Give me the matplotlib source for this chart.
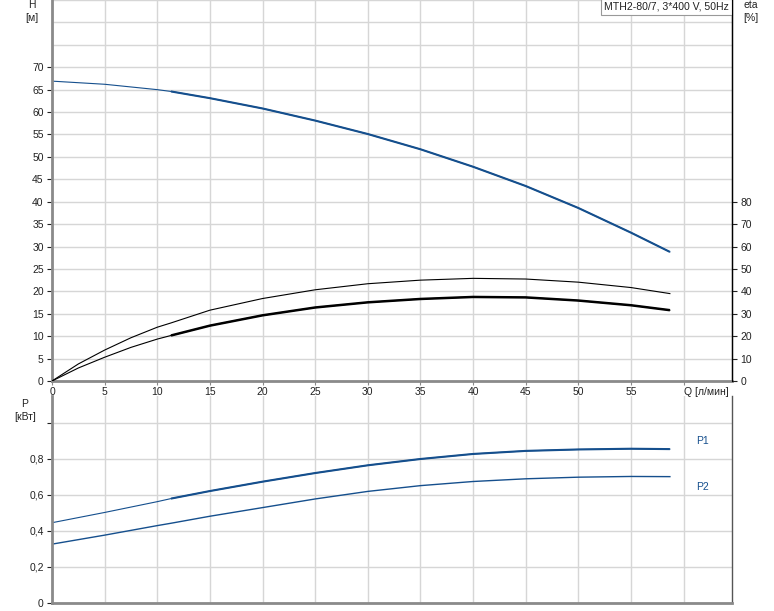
import matplotlib

matplotlib.use("Agg")
import matplotlib.pyplot as plt  # noqa: E402
import numpy as np  # noqa: E402

plt.rcParams["font.family"] = ["Liberation Sans", "DejaVu Sans"]
FS = 7.5

BLUE = "#154f8d"
GRID = "#d6d6d6"
SPINE = "#8a8a8a"
TXT = "#222222"

# Q [l/min] points
q_h = np.array([0, 5, 10, 11.3, 15, 20, 25, 30, 35, 40, 45, 50, 55, 58.7])
head = np.array([66.9, 66.2, 65.0, 64.6, 63.1, 60.8, 58.1, 55.1, 51.7, 47.8,
                 43.5, 38.6, 33.1, 28.8])

q_eta = np.array([0, 2.5, 5, 7.5, 10, 11.3, 15, 20, 25, 30, 35, 40, 45, 50, 55, 58.7])
eta_upper = np.array([0, 7.6, 13.8, 19.3, 24.0, 25.9, 31.6, 36.8, 40.7, 43.4,
                      45.0, 45.8, 45.5, 44.1, 41.7, 39.0])
eta_lower = np.array([0, 5.8, 10.6, 15.0, 18.7, 20.3, 24.7, 29.3, 32.8, 35.1,
                      36.6, 37.5, 37.3, 35.9, 33.8, 31.6])

q_p = np.array([0, 5, 10, 11.3, 15, 20, 25, 30, 35, 40, 45, 50, 55, 58.7])
p1 = np.array([0.446, 0.503, 0.563, 0.58, 0.622, 0.674, 0.722, 0.765, 0.80,
               0.828, 0.845, 0.853, 0.857, 0.855])
p2 = np.array([0.327, 0.377, 0.43, 0.443, 0.482, 0.53, 0.578, 0.62, 0.652,
               0.675, 0.69, 0.699, 0.703, 0.702])

Q_START = 11.3  # start of the duty range (thick part)
x_ticks = list(range(0, 56, 5))
h_ticks = list(range(0, 71, 5))
eta_ticks = list(range(0, 81, 10))
p_ticks = [0, 0.2, 0.4, 0.6, 0.8, 1.0]
p_labels = ["0", "0,2", "0,4", "0,6", "0,8", ""]
title = "MTH2-80/7, 3*400 V, 50Hz"

W, H = 774, 611
fig = plt.figure(figsize=(W / 100, H / 100), dpi=100)
axp = fig.add_axes([52 / W, 8 / H, 680 / W, 207 / H])
ax = fig.add_axes([52 / W, 1 - 381 / H, 680 / W, 381 / H])
axe = ax.twinx()
axp.patch.set_visible(False)

XMAX = 64.6


def style(a, right_col="black"):
    a.set_xlim(0, XMAX)
    a.set_xticks(range(0, 61, 5))
    a.grid(True, which="both", color=GRID, lw=1.0)
    a.set_axisbelow(True)
    a.spines["top"].set_visible(False)
    for s in ("left", "bottom"):
        a.spines[s].set_color(SPINE)
        a.spines[s].set_linewidth(2.0)
    a.spines["right"].set_color(right_col)
    a.spines["right"].set_linewidth(1.0)
    a.tick_params(axis="y", colors=TXT, length=3.5, width=0.8, pad=2.5, labelsize=FS)
    a.tick_params(axis="x", colors=SPINE, labelcolor=TXT, length=3, width=0.8,
                  pad=1.5, labelsize=FS)
    a.tick_params(which="minor", length=0)


# --- top: head and efficiency ---
style(ax)
ax.set_ylim(0, 85)
ax.set_yticks(h_ticks)
ax.set_yticks([75, 80, 85], minor=True)
ax.set_xticklabels([str(v) if v in x_ticks else "" for v in range(0, 61, 5)])
ax.annotate("Q [л/мин]", xy=(60, 0), xytext=(0, -4.5), textcoords="offset points",
            ha="left", va="top", color=TXT, fontsize=FS, annotation_clip=False)

m = q_h >= Q_START
ax.plot(q_h, head, color=BLUE, lw=0.8)
ax.plot(q_h[m], head[m], color=BLUE, lw=1.5, solid_capstyle="butt")

axe.set_ylim(0, 170)
axe.set_yticks(eta_ticks)
for s in ("top", "left", "bottom"):
    axe.spines[s].set_visible(False)
axe.spines["right"].set_color("black")
axe.tick_params(axis="y", colors=TXT, length=3.5, width=0.8, pad=2.5, labelsize=FS)
me = q_eta >= Q_START
axe.plot(q_eta, eta_upper, color="black", lw=0.8)
axe.plot(q_eta, eta_lower, color="black", lw=0.8)
axe.plot(q_eta[me], eta_lower[me], color="black", lw=1.8, solid_capstyle="butt")

fig.text(32 / W, 1 - 0.5 / H, "H\n[м]", ha="center", va="top", color=TXT,
         fontsize=FS, linespacing=1.35)
fig.text(751 / W, 1 - 0.5 / H, "eta\n[%]", ha="center", va="top", color=TXT,
         fontsize=FS, linespacing=1.35)
ax.text(0.9955, 0.995, title, transform=ax.transAxes, ha="right", va="top",
        color=TXT, fontsize=7.6,
        bbox=dict(boxstyle="square,pad=0.3", fc="white", ec="#999999", lw=0.8))

# --- bottom: power ---
style(axp, right_col="#555555")
axp.set_ylim(0, 1.15)
axp.set_yticks(p_ticks)
axp.set_yticklabels(p_labels)
axp.set_xticklabels([])
axp.tick_params(axis="x", length=0)
mp = q_p >= Q_START
axp.plot(q_p, p1, color=BLUE, lw=0.8)
axp.plot(q_p[mp], p1[mp], color=BLUE, lw=1.5, solid_capstyle="butt")
axp.plot(q_p, p2, color=BLUE, lw=1.0)
axp.text(61.2, 0.90, "P1", color=BLUE, fontsize=FS, ha="left", va="center")
axp.text(61.2, 0.645, "P2", color=BLUE, fontsize=FS, ha="left", va="center")
fig.text(25 / W, 1 - 399 / H, "P\n[кВт]", ha="center", va="top", color=TXT,
         fontsize=FS, linespacing=1.35)

fig.savefig("out.png", dpi=100)
